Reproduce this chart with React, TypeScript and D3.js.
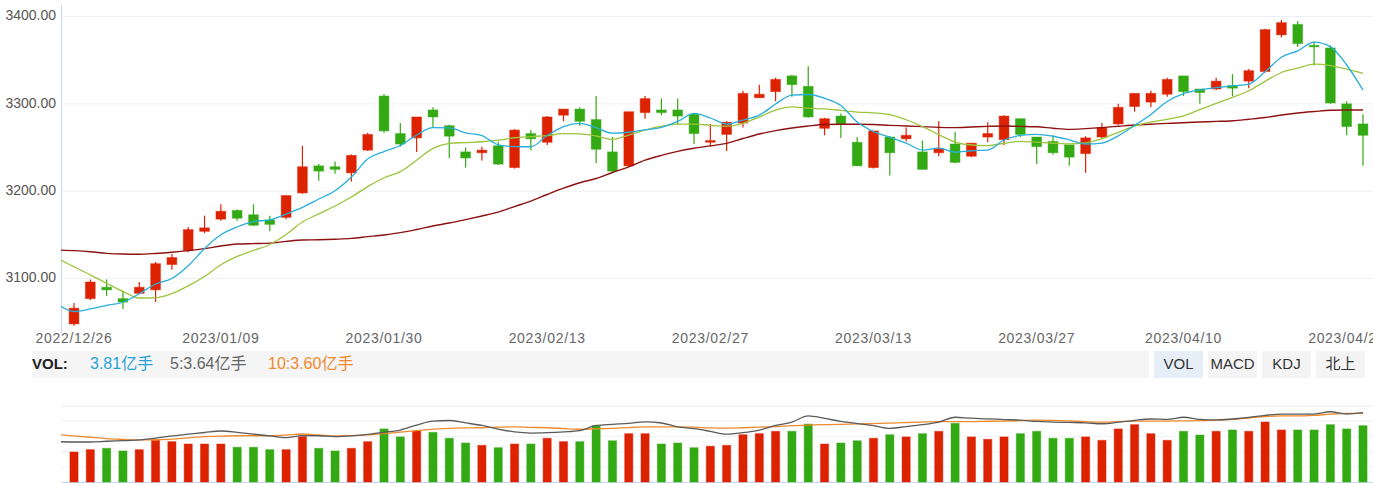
import React, { useEffect } from "react";
import * as d3 from "d3";

// ---------- data ----------
const dates = [
  "2022/12/26","2022/12/27","2022/12/28","2022/12/29","2022/12/30",
  "2023/01/03","2023/01/04","2023/01/05","2023/01/06",
  "2023/01/09","2023/01/10","2023/01/11","2023/01/12","2023/01/13",
  "2023/01/16","2023/01/17","2023/01/18","2023/01/19","2023/01/20",
  "2023/01/30","2023/01/31","2023/02/01","2023/02/02","2023/02/03",
  "2023/02/06","2023/02/07","2023/02/08","2023/02/09","2023/02/10",
  "2023/02/13","2023/02/14","2023/02/15","2023/02/16","2023/02/17",
  "2023/02/20","2023/02/21","2023/02/22","2023/02/23","2023/02/24",
  "2023/02/27","2023/02/28","2023/03/01","2023/03/02","2023/03/03",
  "2023/03/06","2023/03/07","2023/03/08","2023/03/09","2023/03/10",
  "2023/03/13","2023/03/14","2023/03/15","2023/03/16","2023/03/17",
  "2023/03/20","2023/03/21","2023/03/22","2023/03/23","2023/03/24",
  "2023/03/27","2023/03/28","2023/03/29","2023/03/30","2023/03/31",
  "2023/04/03","2023/04/04","2023/04/06","2023/04/07",
  "2023/04/10","2023/04/11","2023/04/12","2023/04/13","2023/04/14",
  "2023/04/17","2023/04/18","2023/04/19","2023/04/20","2023/04/21",
  "2023/04/24","2023/04/25",
];

const opens = [
  3048,3077,3090,3077,3083, 3087,3116,3132,3154, 3168,3178,3173,3167,3170,
  3198,3229,3228,3221,3247, 3309,3266,3261,3293,3275, 3245,3244,3252,3227,3266,
  3256,3287,3294,3282,3245, 3229,3290,3293,3293,3288, 3256,3265,3278,3307,3314,
  3332,3320,3272,3286,3256, 3227,3262,3260,3245,3244, 3254,3240,3262,3259,3283,
  3262,3257,3253,3243,3262, 3277,3297,3302,3311, 3332,3317,3317,3321,3326,
  3337,3379,3391,3367,3364, 3300,3277,
];
const highs = [
  3072,3099,3099,3086,3096, 3119,3128,3159,3172, 3185,3179,3185,3172,3195,
  3252,3231,3234,3242,3267, 3311,3278,3285,3296,3276, 3250,3251,3257,3271,3270,
  3286,3294,3296,3309,3262, 3291,3309,3306,3306,3289, 3277,3280,3315,3322,3330,
  3333,3343,3284,3289,3262, 3269,3263,3273,3258,3280, 3268,3255,3279,3287,3283,
  3262,3264,3253,3263,3278, 3300,3312,3315,3330, 3332,3317,3330,3334,3340,
  3386,3396,3395,3371,3367, 3303,3288,
];
const lows = [
  3046,3075,3080,3065,3082, 3073,3110,3130,3152, 3166,3166,3160,3154,3168,
  3197,3212,3220,3211,3246, 3267,3251,3245,3273,3238, 3227,3235,3230,3226,3247,
  3253,3280,3275,3232,3222, 3228,3283,3287,3276,3254, 3251,3246,3273,3307,3303,
  3308,3284,3264,3261,3229, 3226,3218,3257,3225,3240, 3232,3239,3256,3253,3262,
  3231,3242,3229,3221,3261, 3276,3291,3296,3308, 3309,3300,3316,3309,3318,
  3336,3376,3365,3344,3300, 3264,3229,
];
const closes = [
  3066,3096,3087,3073,3090, 3117,3124,3156,3158, 3177,3169,3161,3162,3195,
  3228,3223,3225,3241,3265, 3269,3254,3285,3285,3263, 3238,3247,3231,3270,3260,
  3285,3294,3280,3248,3223, 3291,3306,3290,3286,3266, 3258,3279,3312,3311,3328,
  3322,3285,3283,3277,3229, 3269,3244,3264,3225,3249, 3233,3255,3266,3286,3265,
  3251,3244,3239,3261,3273, 3296,3312,3312,3328, 3314,3313,3326,3318,3338,
  3385,3393,3369,3366,3301, 3274,3264,
];

// moving-average lines: first value belongs to the session before the view (2022/12/23)
const ma5 = [
  3070.2,3062.2,3065.1,3069.2,3072.8,3082.6,3093.7,3100.0,3114.6,3134.3,
  3150.1,3159.0,3165.1,3167.2,3173.8,3181.5,3191.0,3200.5,3216.2,3236.8,
  3245.4,3252.3,3264.3,3272.7,3272.6,3266.8,3263.7,3253.1,3251.1,3250.9,
  3263.7,3274.0,3277.7,3272.7,3266.4,3267.5,3270.3,3273.1,3279.9,3289.0,
  3283.8,3276.9,3281.5,3287.0,3299.8,3310.1,3310.7,3306.4,3298.2,3279.2,
  3268.3,3261.8,3255.1,3247.1,3249.4,3244.6,3246.3,3247.1,3258.6,3263.8,
  3265.0,3262.9,3258.8,3254.0,3255.1,3263.4,3275.2,3287.8,3302.7,3311.6,
  3316.1,3318.6,3320.6,3322.5,3336.8,3353.4,3360.7,3370.8,3365.6,3344.5,
  3315.8,
];
const ma10 = [
  3122.9,3113.5,3104.2,3094.5,3085.3,3077.7,3077.9,3082.7,3091.5,3102.3,
  3115.7,3125.3,3132.1,3138.9,3150.4,3164.7,3174.0,3183.0,3193.3,3205.2,
  3215.4,3222.4,3235.5,3249.0,3254.8,3255.7,3256.6,3258.4,3261.2,3262.5,
  3263.6,3265.8,3265.6,3263.2,3259.3,3264.3,3270.0,3274.4,3276.9,3276.9,
  3275.4,3274.4,3277.7,3284.9,3292.9,3296.6,3295.0,3294.2,3292.5,3290.6,
  3289.7,3287.7,3281.8,3274.0,3264.8,3256.3,3252.9,3252.2,3254.9,3257.1,
  3256.1,3254.9,3254.1,3255.4,3260.1,3267.4,3274.5,3279.1,3282.3,3286.3,
  3293.3,3300.5,3307.5,3315.0,3325.8,3335.9,3340.8,3345.5,3343.9,3339.7,
  3335.0,
];
const ma60 = [
  3132.6,3131.9,3130.7,3128.8,3128.0,3127.8,3128.7,3130.1,3131.9,3134.2,
  3137.2,3139.5,3140.0,3140.5,3142.5,3144.1,3144.4,3145.0,3145.9,3147.9,
  3149.9,3152.5,3156.1,3160.1,3163.5,3167.4,3171.6,3176.1,3182.4,3188.7,
  3196.2,3203.4,3209.7,3214.5,3221.4,3227.9,3235.5,3241.0,3245.6,3249.1,
  3251.9,3254.7,3260.3,3265.5,3269.3,3272.3,3274.6,3276.3,3276.6,3276.6,
  3276.3,3275.4,3274.7,3273.9,3273.1,3272.8,3273.5,3274.2,3274.6,3274.2,
  3273.7,3272.1,3270.8,3271.6,3272.8,3274.3,3275.8,3276.7,3277.6,3278.4,
  3279.2,3279.9,3280.7,3282.4,3284.3,3287.2,3289.5,3291.2,3292.7,3292.9,
  3292.9,
];

// volume, 亿手
const volumes = [
  2.03,2.19,2.28,2.10,2.19,2.82,2.73,2.57,2.57,2.57,
  2.35,2.35,2.19,2.19,3.07,2.28,2.10,2.28,2.73,3.59,
  3.05,3.45,3.36,2.96,2.64,2.48,2.32,2.57,2.57,2.96,
  2.73,2.73,3.81,2.79,3.27,3.27,2.57,2.64,2.32,2.42,
  2.48,3.20,3.27,3.43,3.43,3.92,2.57,2.64,2.79,2.96,
  3.20,3.05,3.27,3.43,3.97,3.05,2.89,3.05,3.27,3.43,
  2.96,2.96,3.05,2.82,3.59,3.88,3.27,2.82,3.43,3.18,
  3.43,3.52,3.43,4.06,3.52,3.52,3.52,3.88,3.59,3.81,
];
const volMa5 = [
  2.12,2.10,2.10,2.14,2.17,2.21,2.31,2.42,2.51,2.60,
  2.68,2.61,2.51,2.42,2.33,2.44,2.43,2.38,2.42,2.50,
  2.61,2.73,2.99,3.20,3.23,3.10,2.97,2.78,2.63,2.57,
  2.59,2.63,2.70,2.97,3.03,3.08,3.16,3.10,2.90,2.80,
  2.66,2.51,2.59,2.73,2.97,3.15,3.47,3.34,3.19,3.07,
  2.96,2.82,2.91,3.01,3.15,3.40,3.35,3.32,3.28,3.25,
  3.18,3.15,3.13,3.11,3.06,3.14,3.24,3.31,3.29,3.40,
  3.29,3.26,3.31,3.39,3.50,3.57,3.57,3.57,3.69,3.57,
  3.64,
];
const volMa10 = [
  2.49,2.42,2.35,2.28,2.24,2.21,2.22,2.25,2.32,2.38,
  2.41,2.43,2.43,2.43,2.46,2.52,2.47,2.42,2.44,2.47,
  2.54,2.62,2.70,2.78,2.82,2.84,2.85,2.88,2.90,2.87,
  2.85,2.81,2.77,2.79,2.82,2.86,2.90,2.90,2.90,2.88,
  2.84,2.83,2.85,2.88,2.91,2.96,2.99,3.01,3.03,3.05,
  3.07,3.09,3.12,3.15,3.17,3.17,3.17,3.19,3.20,3.22,
  3.25,3.24,3.21,3.17,3.14,3.17,3.20,3.20,3.20,3.21,
  3.22,3.25,3.29,3.36,3.44,3.47,3.47,3.50,3.56,3.60,
  3.60,
];

const yTicks = [3100, 3200, 3300, 3400];
const xTickDates = [
  "2022/12/26","2023/01/09","2023/01/30","2023/02/13","2023/02/27",
  "2023/03/13","2023/03/27","2023/04/10","2023/04/24",
];
const tabs = ["VOL", "MACD", "KDJ", "北上"];
const unit = "亿手";

// ---------- styles ----------
const W = 1373;
const H = 483;
const UP = "#dd2200";
const DOWN = "#33a913";
const FONT = '"Liberation Sans", Arial, "Noto Sans CJK SC", sans-serif';

export default function App() {
  useEffect(() => {
    document.body.style.margin = "0";
    document.body.style.overflow = "hidden";
  }, []);

  const x = d3.scalePoint<string>().domain(dates).range([74, 1363]);
  const step = x.step();
  const xi = (i: number) =>
    i < 0 ? (x(dates[0]) as number) + i * step : (x(dates[i]) as number);

  const y = d3.scaleLinear().domain([3037.6, 3413.2]).range([333, 5]);
  const volMax = 5.142;
  const yVol = d3.scaleLinear().domain([0, volMax]).range([482, 406]);
  const yVolMa = d3.scaleLinear().domain([0, 3.992]).range([482, 406]);

  const plotL = 61;
  const bodyW = step * 0.6;
  const barW = step * 0.5;

  const mainLine = (arr: number[]) =>
    d3
      .line<number>()
      .x((_, k) => xi(k - 1))
      .y((d) => y(d))
      .curve(d3.curveMonotoneX)(arr) as string;
  const volLine = (arr: number[]) =>
    d3
      .line<number>()
      .x((_, k) => xi(k - 1))
      .y((d) => yVolMa(d))
      .curve(d3.curveMonotoneX)(arr) as string;

  const volGrid = d3.range(1, 6).map((k) => yVol((volMax * k) / 5));

  const last = volumes.length - 1;
  const legendItems = [
    { text: volumes[last].toFixed(2) + unit, color: "#26a3d6", x: 90 },
    { text: "5:" + volMa5[volMa5.length - 1].toFixed(2) + unit, color: "#666666", x: 170 },
    { text: "10:" + volMa10[volMa10.length - 1].toFixed(2) + unit, color: "#ef8a2c", x: 268 },
  ];

  return (
    <svg
      width={W}
      height={H}
      style={{ position: "absolute", left: 0, top: 0, display: "block", background: "#fff" }}
      fontFamily={FONT}
    >
      <defs>
        <clipPath id="mainClip">
          <rect x={plotL} y={5} width={W - plotL} height={328} />
        </clipPath>
        <clipPath id="volClip">
          <rect x={plotL} y={380} width={W - plotL} height={103} />
        </clipPath>
      </defs>

      {/* main grid */}
      {yTicks.map((t) => (
        <g key={t}>
          <line x1={plotL} x2={W} y1={y(t)} y2={y(t)} stroke="#edf0f5" strokeWidth={1} />
          <text
            x={56}
            y={y(t)}
            textAnchor="end"
            dominantBaseline="middle"
            fontSize={14}
            fill="#555"
          >
            {t.toFixed(2)}
          </text>
        </g>
      ))}
      <line x1={plotL + 0.5} x2={plotL + 0.5} y1={5} y2={333} stroke="#c9d7ee" strokeWidth={1} />

      {/* candles */}
      <g clipPath="url(#mainClip)">
        {dates.map((d, i) => {
          const up = closes[i] >= opens[i];
          const c = up ? UP : DOWN;
          const cx = xi(i);
          const top = y(Math.max(opens[i], closes[i]));
          const bot = y(Math.min(opens[i], closes[i]));
          return (
            <g key={d}>
              <line x1={cx} x2={cx} y1={y(highs[i])} y2={y(lows[i])} stroke={c} strokeWidth={1.2} />
              <rect
                x={cx - bodyW / 2}
                y={top}
                width={bodyW}
                height={Math.max(1.5, bot - top)}
                fill={c}
                stroke={c}
                strokeOpacity={0.45}
                strokeWidth={1}
              />
            </g>
          );
        })}
        <path d={mainLine(ma60)} fill="none" stroke="#8e1111" strokeWidth={1.4} />
        <path d={mainLine(ma10)} fill="none" stroke="#9cc43c" strokeWidth={1.3} />
        <path d={mainLine(ma5)} fill="none" stroke="#27aedb" strokeWidth={1.3} />
      </g>

      {/* x labels */}
      {xTickDates.map((d) => (
        <text
          key={d}
          x={x(d) as number}
          y={339}
          textAnchor="middle"
          dominantBaseline="middle"
          fontSize={14}
          fill="#666"
          letterSpacing={0.7}
        >
          {d}
        </text>
      ))}

      {/* legend strip */}
      <rect x={32} y={351} width={1117} height={27} fill="#f5f5f5" />
      <text x={32} y={365} dominantBaseline="middle" fontSize={15} fontWeight="bold" fill="#222">
        VOL:
      </text>
      {legendItems.map((it) => (
        <text key={it.text} x={it.x} y={365} dominantBaseline="middle" fontSize={16} fill={it.color}>
          {it.text}
        </text>
      ))}
      {tabs.map((t, k) => (
        <g key={t}>
          <rect
            x={1154 + k * 54}
            y={351}
            width={49}
            height={27}
            fill={k === 0 ? "#e6eef8" : "#f4f4f4"}
          />
          <text
            x={1154 + k * 54 + 24.5}
            y={365}
            textAnchor="middle"
            dominantBaseline="middle"
            fontSize={15}
            fill="#333"
          >
            {t}
          </text>
        </g>
      ))}

      {/* volume panel */}
      {volGrid.map((gy, k) => (
        <line
          key={k}
          x1={plotL}
          x2={W}
          y1={gy}
          y2={gy}
          stroke={k === volGrid.length - 1 ? "#e6ebf3" : "#f0f2f6"}
          strokeWidth={1}
        />
      ))}
      <line x1={plotL} x2={W} y1={482.5} y2={482.5} stroke="#c9d7ee" strokeWidth={1} />
      <g clipPath="url(#volClip)">
        {volumes.map((v, i) => {
          const up = closes[i] >= opens[i];
          const c = up ? UP : DOWN;
          const cx = xi(i);
          return (
            <rect
              key={dates[i]}
              x={cx - barW / 2}
              y={yVol(v)}
              width={barW}
              height={yVol(0) - yVol(v)}
              fill={c}
              stroke={c}
              strokeOpacity={0.45}
              strokeWidth={1}
            />
          );
        })}
        <path d={volLine(volMa10)} fill="none" stroke="#ef8a2c" strokeWidth={1.3} />
        <path d={volLine(volMa5)} fill="none" stroke="#5a5a5a" strokeWidth={1.3} />
      </g>
    </svg>
  );
}
